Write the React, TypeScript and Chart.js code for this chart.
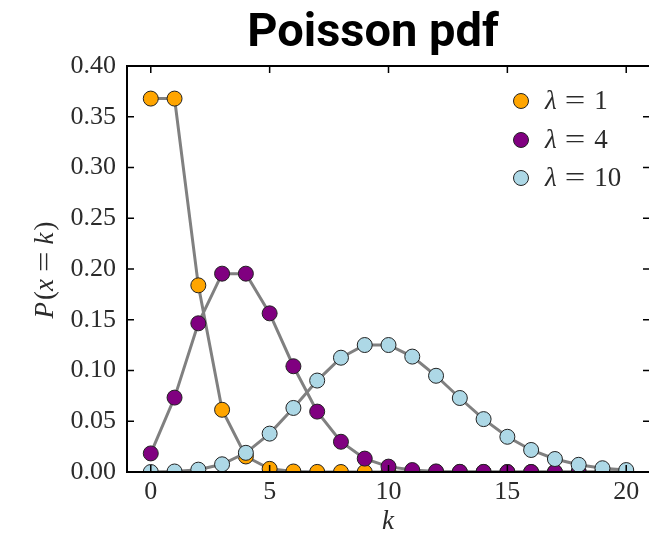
import React, { useEffect, useRef } from "react";
import { Chart, registerables } from "chart.js";

Chart.register(...registerables);

const kValues = [0, 1, 2, 3, 4, 5, 6, 7, 8, 9, 10, 11, 12, 13, 14, 15, 16, 17, 18, 19, 20];
const lambda1 = [0.3679, 0.3679, 0.1839, 0.0613, 0.0153, 0.0031, 0.0005, 0.0001, 0.0, 0.0, 0.0, 0.0, 0.0, 0.0, 0.0, 0.0, 0.0, 0.0, 0.0, 0.0, 0.0];
const lambda4 = [0.0183, 0.0733, 0.1465, 0.1954, 0.1954, 0.1563, 0.1042, 0.0595, 0.0298, 0.0132, 0.0053, 0.0019, 0.0006, 0.0002, 0.0001, 0.0, 0.0, 0.0, 0.0, 0.0, 0.0];
const lambda10 = [0.0, 0.0005, 0.0023, 0.0076, 0.0189, 0.0378, 0.0631, 0.0901, 0.1126, 0.1251, 0.1251, 0.1137, 0.0948, 0.0729, 0.0521, 0.0347, 0.0217, 0.0128, 0.0071, 0.0037, 0.0019];
const lambdaLabels = ["1", "4", "10"];
const seriesColors = ["#FFA500", "#800080", "#ADD8E6"];
const xTicks = [0, 5, 10, 15, 20];
const yTicks = [0.0, 0.05, 0.1, 0.15, 0.2, 0.25, 0.3, 0.35, 0.4];
const titleText = "Poisson pdf";

const SERIF = "'Liberation Serif', 'DejaVu Serif', serif";
const TEXT_COLOR = "#2b2b2b";

type Seg = { t: string; it?: boolean; gap?: number; sx?: number };

function drawSegments(ctx: CanvasRenderingContext2D, segs: Seg[], size: number, x: number, y: number, align: "left" | "center") {
  const fontFor = (it?: boolean) => `${it ? "italic " : ""}${size}px ${SERIF}`;
  let total = 0;
  for (const s of segs) {
    ctx.font = fontFor(s.it);
    total += (s.gap || 0) + ctx.measureText(s.t).width * (s.sx || 1);
  }
  let cx = align === "center" ? x - total / 2 : x;
  ctx.textAlign = "left";
  for (const s of segs) {
    ctx.font = fontFor(s.it);
    cx += s.gap || 0;
    const w = ctx.measureText(s.t).width * (s.sx || 1);
    ctx.save();
    ctx.translate(cx, y);
    ctx.scale(s.sx || 1, 1);
    ctx.fillText(s.t, 0, 0);
    ctx.restore();
    cx += w;
  }
}

const decorPlugin = {
  id: "decor",
  afterDraw(chart: any) {
    const ctx: CanvasRenderingContext2D = chart.ctx;
    const { left, right, top, bottom } = chart.chartArea;
    const xs = chart.scales.x;
    const ys = chart.scales.y;
    ctx.save();
    ctx.strokeStyle = "#000";
    ctx.lineWidth = 2;
    ctx.strokeRect(left, top, right - left, bottom - top);
    ctx.lineWidth = 1.5;
    const tl = 7;
    ctx.beginPath();
    for (const v of xTicks) {
      const px = xs.getPixelForValue(v);
      ctx.moveTo(px, bottom);
      ctx.lineTo(px, bottom - tl);
      ctx.moveTo(px, top);
      ctx.lineTo(px, top + tl);
    }
    for (const v of yTicks) {
      const py = ys.getPixelForValue(v);
      ctx.moveTo(left, py);
      ctx.lineTo(left + tl, py);
      ctx.moveTo(right, py);
      ctx.lineTo(right - tl, py);
    }
    ctx.stroke();

    // title
    ctx.fillStyle = "#000";
    ctx.font = "bold 47px Roboto, 'Noto Sans', sans-serif";
    ctx.textAlign = "center";
    ctx.textBaseline = "alphabetic";
    ctx.fillText(titleText, 373, 46);

    // legend
    const legendY = [101, 140, 178];
    lambdaLabels.forEach((lab, i) => {
      const y = legendY[i];
      ctx.beginPath();
      ctx.arc(521, y, 7.5, 0, Math.PI * 2);
      ctx.fillStyle = seriesColors[i];
      ctx.fill();
      ctx.lineWidth = 1;
      ctx.strokeStyle = "#222";
      ctx.stroke();
      ctx.fillStyle = TEXT_COLOR;
      ctx.textBaseline = "middle";
      drawSegments(
        ctx,
        [
          { t: "λ", it: true },
          { t: "=", gap: 8, sx: 1.35 },
          { t: lab, gap: 9 },
        ],
        27,
        545,
        y + 1,
        "left"
      );
    });

    // x label
    ctx.fillStyle = TEXT_COLOR;
    ctx.textBaseline = "middle";
    drawSegments(ctx, [{ t: "k", it: true }], 27, 388, 522, "center");

    // y label
    ctx.save();
    ctx.translate(46, 270);
    ctx.rotate(-Math.PI / 2);
    drawSegments(
      ctx,
      [
        { t: "P", it: true },
        { t: "(", gap: 2 },
        { t: "x", it: true },
        { t: "=", gap: 7, sx: 1.35 },
        { t: "k", it: true, gap: 7 },
        { t: ")", gap: 2 },
      ],
      27,
      0,
      0,
      "center"
    );
    ctx.restore();

    ctx.restore();
  },
};

function makeData(arr: number[]) {
  return kValues.map((k, i) => ({ x: k, y: arr[i] }));
}

export default function App() {
  const ref = useRef<HTMLCanvasElement | null>(null);
  useEffect(() => {
    if (!ref.current) return;
    const allSeries = [lambda1, lambda4, lambda10];
    const chart = new Chart(ref.current, {
      type: "line",
      data: {
        datasets: allSeries.map((arr, i) => ({
          label: "λ = " + lambdaLabels[i],
          data: makeData(arr),
          order: 3 - i,
          borderColor: "#808080",
          borderWidth: 3,
          pointRadius: 7.5,
          pointBackgroundColor: seriesColors[i],
          pointBorderColor: "#222",
          pointBorderWidth: 1,
          tension: 0,
          clip: 0,
        })) as any,
      },
      options: {
        animation: false,
        responsive: false,
        devicePixelRatio: 1,
        layout: { padding: { top: 66, right: 20, left: 0, bottom: 0 } },
        plugins: { legend: { display: false }, tooltip: { enabled: false }, title: { display: false } },
        scales: {
          x: {
            type: "linear",
            min: -1,
            max: 21,
            grid: { display: false, drawTicks: false },
            border: { display: false },
            afterBuildTicks: (s: any) => {
              s.ticks = xTicks.map((v) => ({ value: v }));
            },
            afterFit: (s: any) => {
              s.height = 65;
            },
            ticks: {
              padding: 5,
              color: TEXT_COLOR,
              font: { family: SERIF, size: 26 },
              maxRotation: 0,
              callback: (v: any) => String(v),
            },
          },
          y: {
            type: "linear",
            min: 0,
            max: 0.4,
            grid: { display: false, drawTicks: false },
            border: { display: false },
            afterBuildTicks: (s: any) => {
              s.ticks = yTicks.map((v) => ({ value: v }));
            },
            afterFit: (s: any) => {
              s.width = 127;
            },
            ticks: {
              padding: 11,
              color: TEXT_COLOR,
              font: { family: SERIF, size: 26 },
              callback: (v: any) => Number(v).toFixed(2),
            },
          },
        },
      },
      plugins: [decorPlugin],
    });
    return () => chart.destroy();
  }, []);
  return (
    <div style={{ position: "fixed", left: 0, top: 0, width: 649, height: 537, overflow: "hidden", background: "#fff" }}>
      <canvas ref={ref} width={670} height={537} style={{ display: "block", width: 670, height: 537 }} />
    </div>
  );
}
